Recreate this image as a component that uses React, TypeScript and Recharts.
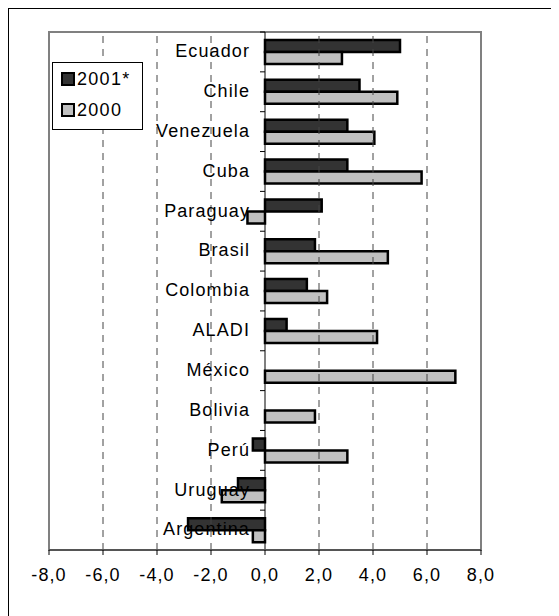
import { BarChart, Bar, XAxis, YAxis, ReferenceLine, ReferenceArea, Legend } from 'recharts';

const countries = ['Ecuador', 'Chile', 'Venezuela', 'Cuba', 'Paraguay', 'Brasil', 'Colombia', 'ALADI', 'México', 'Bolivia', 'Perú', 'Uruguay', 'Argentina'];
const values2001 = [5.0, 3.5, 3.05, 3.05, 2.1, 1.85, 1.55, 0.8, 0, 0, -0.45, -1.0, -2.85];
const values2000 = [2.85, 4.9, 4.05, 5.8, -0.65, 4.55, 2.3, 4.15, 7.05, 1.85, 3.05, -1.6, -0.45];
const xTicks = [-8, -6, -4, -2, 0, 2, 4, 6, 8];
const gridValues = [-6, -4, -2, 2, 4, 6];

const data = countries.map((name, i) => ({ name, y2001: values2001[i], y2000: values2000[i] }));

const W = 550;
const H = 607;
const margin = { top: 23, right: 78, bottom: 36, left: 39 };
const AXIS_H = 30;
const Y_W = 1;
const plotH = H - margin.top - margin.bottom - AXIS_H;
const plotLeft = margin.left + Y_W;
const plotW = W - plotLeft - margin.right;
const band = plotH / countries.length;
const zeroX = plotLeft + plotW * (0 - xTicks[0]) / (xTicks[xTicks.length - 1] - xTicks[0]);

const font = '"Liberation Sans", Arial, sans-serif';

const renderCategoryTick = (props: any) => {
  const { y, payload } = props;
  const top = y - band / 2;
  return (
    <g>
      <line x1={zeroX - 5} x2={zeroX} y1={top} y2={top} stroke="#000" strokeWidth={1} />
      <text x={zeroX - 15} y={y - 1} dy="0.35em" textAnchor="end" fontSize={18} fontFamily={font} letterSpacing={1.1} fill="#000">
        {payload.value}
      </text>
    </g>
  );
};

const LegendBox = () => (
  <div style={{ width: 91, height: 68, border: '1px solid #000', boxSizing: 'border-box', background: '#fff', fontFamily: font, fontSize: 18, letterSpacing: 1.3 }}>
    {[
      { label: '2001*', color: '#333333' },
      { label: '2000', color: '#c0c0c0' },
    ].map((it) => (
      <div key={it.label} style={{ height: 31, display: 'flex', alignItems: 'center', paddingLeft: 8 }}>
        <span style={{ width: 14, height: 14, background: it.color, border: '2px solid #000', boxSizing: 'border-box', marginRight: 2 }} />
        <span style={{ lineHeight: '18px' }}>{it.label}</span>
      </div>
    ))}
  </div>
);

export default function App() {
  return (
    <div style={{ borderTop: '1px solid #000', borderLeft: '1px solid #000', width: W, height: H, background: '#fff' }}>
      <BarChart
        width={W}
        height={H}
        data={data}
        layout="vertical"
        margin={margin}
        barSize={12}
        barGap={0}
      >
        <ReferenceArea x1={-8} x2={8} fill="none" stroke="#808080" strokeWidth={2} ifOverflow="visible" />
        {gridValues.map((v) => (
          <ReferenceLine key={v} x={v} stroke="#444" strokeDasharray="7 6" />
        ))}
        <XAxis
          type="number"
          domain={[-8, 8]}
          ticks={xTicks}
          height={AXIS_H}
          interval={0}
          tickFormatter={(v: number) => v.toFixed(1).replace('.', ',')}
          axisLine={{ stroke: '#555', strokeWidth: 2 }}
          tickLine={{ stroke: '#000' }}
          tickSize={5}
          tickMargin={13}
          tick={{ fontSize: 18, fontFamily: font, fill: '#000', letterSpacing: 1.1 }}
        />
        <ReferenceLine x={0} stroke="#000" strokeWidth={1} />
        <Bar dataKey="y2001" name="2001*" fill="#333333" stroke="#000" strokeWidth={2.5} isAnimationActive={false} />
        <Bar dataKey="y2000" name="2000" fill="#c0c0c0" stroke="#000" strokeWidth={2.5} isAnimationActive={false} />
        <YAxis type="category" dataKey="name" width={Y_W} axisLine={false} tickLine={false} tick={renderCategoryTick} interval={0} />
        <Legend
          layout="vertical"
          align="center"
          verticalAlign="middle"
          content={<LegendBox />}
          wrapperStyle={{ left: 43, top: 53, width: 91, height: 68 }}
        />
      </BarChart>
    </div>
  );
}
